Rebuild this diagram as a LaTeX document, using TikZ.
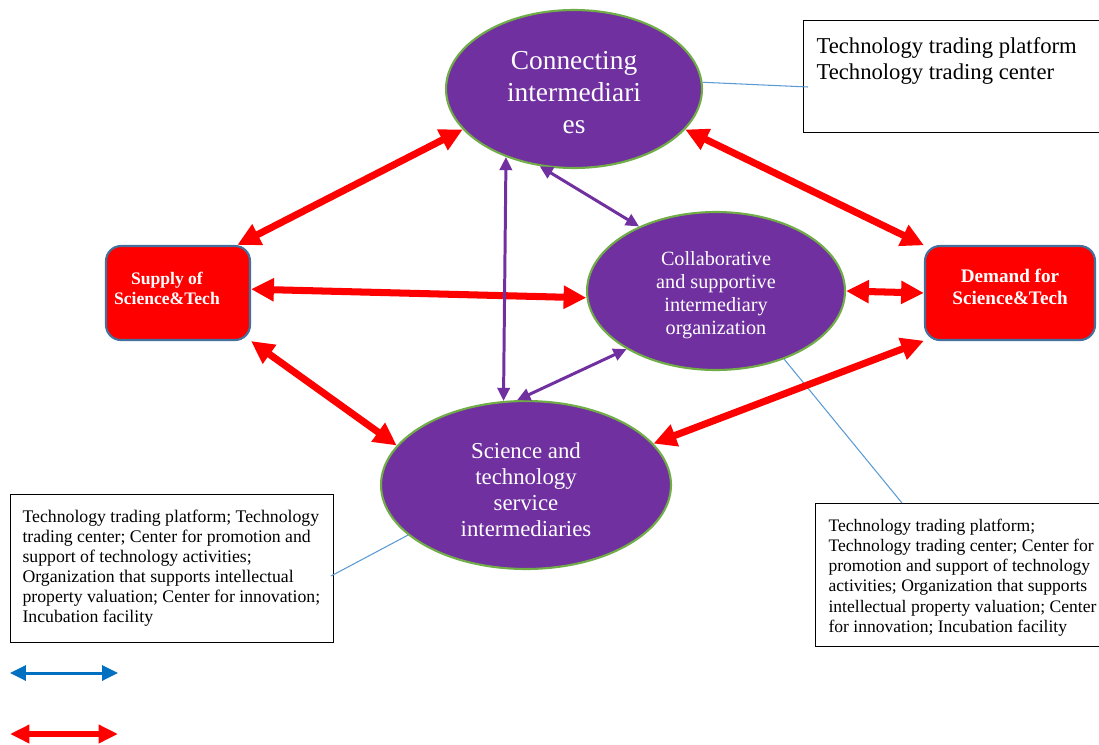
\documentclass[tikz,border=0pt]{standalone}
\usepackage{fontspec}
\setmainfont{Liberation Serif}
\usetikzlibrary{arrows.meta, shapes, positioning, calc}
\definecolor{interpurple}{HTML}{7030A0}
\definecolor{leafgreen}{HTML}{70AD47}
\definecolor{steelborder}{HTML}{41719C}
\definecolor{linkblue}{HTML}{0070C0}
\definecolor{calloutblue}{HTML}{5B9BD5}
% centred lines, moved up or down without changing the box size
\newcommand{\stackshift}[2]{\raisebox{#1}[\height][\depth]{\begin{tabular}{@{}c@{}}#2\end{tabular}}}
\tikzset{
  interbubble/.style={ellipse, fill=interpurple, draw=leafgreen, line width=1.2pt, text=white, inner sep=0pt},
  sidebox/.style={rectangle, rounded corners=0.3cm, fill=red, draw=steelborder, line width=1.2pt, text=white, minimum height=1.88cm},
  notebox/.style={rectangle, draw=black, line width=0.6pt, anchor=north west},
  redlink/.style={red, line width=4pt, {Triangle[length=13pt,width=12.5pt]}-{Triangle[length=13pt,width=12.5pt]}},
  purplelink/.style={interpurple, line width=1.7pt, {Triangle[length=7.5pt,width=7pt]}-{Triangle[length=7.5pt,width=7pt]}},
  callout/.style={calloutblue, line width=0.6pt}
}

\begin{document}
\begin{tikzpicture}[x=0.02cm, y=-0.02cm]
  \clip (0,0) rectangle (1099,744);
  \fill[white] (0,0) rectangle (1099,744);

  % intermediaries
  \node[interbubble, minimum width=5.12cm, minimum height=3.16cm, font=\fontsize{15.6}{18.2}\selectfont] (connecting) at (574,89)
    {\stackshift{-3.7pt}{Connecting\\intermediari\\es}};
  \node[interbubble, minimum width=5.16cm, minimum height=3.16cm, font=\fontsize{11.5}{13.1}\selectfont] (collab) at (716,291)
    {\stackshift{-2.3pt}{Collaborative\\and supportive\\intermediary\\organization}};
  \node[interbubble, minimum width=5.8cm, minimum height=3.36cm, font=\fontsize{13}{14.8}\selectfont] (service) at (526,485)
    {\stackshift{-4pt}{Science and\\technology\\service\\intermediaries}};

  % supply and demand
  \node[sidebox, minimum width=2.88cm, font=\fontsize{10}{11.4}\selectfont\bfseries] (supply) at (178,293)
    {\stackshift{1.3pt}{Supply of\\Science\&Tech}\kern12.6pt};
  \node[sidebox, minimum width=3.4cm, font=\fontsize{10.9}{12.4}\selectfont\bfseries] (demand) at (1010,293)
    {\stackshift{2.3pt}{Demand for\\Science\&Tech}};

  % notes
  \node[notebox, inner xsep=0.26cm, inner ysep=0.34cm, font=\fontsize{12.9}{14.8}\selectfont] (topnote) at (803,20)
    {\parbox[t][1.56cm][t]{5.48cm}{\raggedright Technology trading platform\\Technology trading center}};
  \node[notebox, inner xsep=0.24cm, inner ysep=0.3cm, font=\fontsize{10.1}{11.4}\selectfont] (lnote) at (10,494)
    {\parbox[t][2.36cm][t]{5.98cm}{\raggedright Technology trading platform; Technology\\
     trading center; Center for promotion and\\
     support of technology activities;\\
     Organization that supports intellectual\\
     property valuation; Center for innovation;\\
     Incubation facility}};
  \node[notebox, inner xsep=0.26cm, inner ysep=0.32cm, font=\fontsize{10}{11.4}\selectfont] (rnote) at (815,503)
    {\parbox[t][2.22cm][t]{5.8cm}{\raggedright Technology trading platform;\\
     Technology trading center; Center for\\
     promotion and support of technology\\
     activities; Organization that supports\\
     intellectual property valuation; Center\\
     for innovation; Incubation facility}};

  \draw[callout] (connecting.3) -- ($(topnote.north west)+(5,67)$);
  \draw[callout] (collab.-45) -- ($(rnote.north west)+(87,0)$);
  \draw[callout] (service.203) -- ($(lnote.north east)+(-3,82)$);

  % links
  \draw[redlink] (supply.39) -- (connecting.200);
  \draw[redlink] (connecting.-20) -- (demand.151);
  \draw[redlink] (supply.3) -- (collab.183);
  \draw[redlink] (collab.east) -- (demand.west);
  \draw[redlink] (supply.south east) -- (service.163);
  \draw[redlink] (service.18) -- (demand.209);

  \draw[purplelink] (connecting.225) -- (service.105);
  \draw[purplelink] (connecting.246) -- (collab.140);
  \draw[purplelink] (collab.213) -- (service.96);

  % legend
  \coordinate (bluel) at (10,673);
  \coordinate (bluer) at (118,673);
  \coordinate (redl) at (10,734);
  \coordinate (redr) at (118,734);
  \draw[linkblue, line width=1.7pt, {Triangle[length=9pt,width=8.5pt]}-{Triangle[length=9pt,width=8.5pt]}] (bluel) -- (bluer);
  \draw[red, line width=3pt, {Triangle[length=11pt,width=10pt]}-{Triangle[length=11pt,width=10pt]}] (redl) -- (redr);
\end{tikzpicture}
\end{document}
